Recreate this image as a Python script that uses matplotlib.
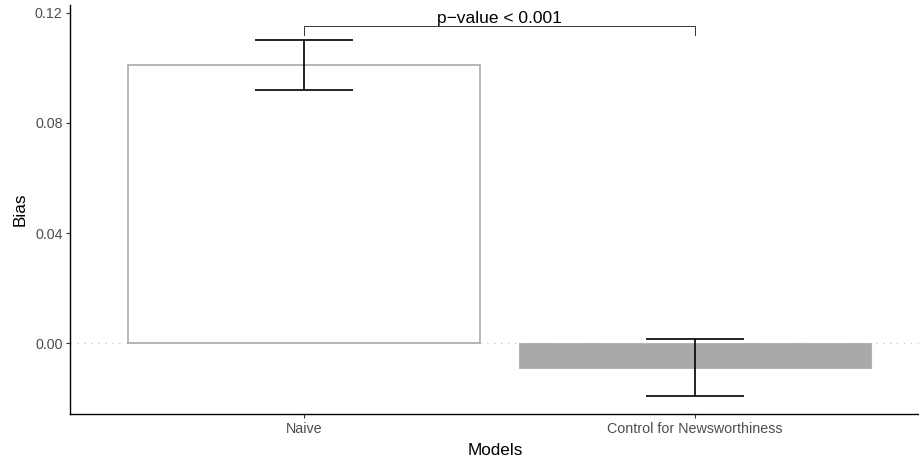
import matplotlib
matplotlib.use("Agg")
import matplotlib.pyplot as plt

plt.rcParams['font.family'] = ['Liberation Sans', 'DejaVu Sans']

categories = ["Naive", "Control for Newsworthiness"]
bias = [0.1010, -0.0091]
err_low = [0.0919, -0.0191]
err_high = [0.1102, 0.0016]
yticks = [0.00, 0.04, 0.08, 0.12]
ytick_labels = ["0.00", "0.04", "0.08", "0.12"]
p_label = "p\u2212value < 0.001"

fig = plt.figure(figsize=(9.2, 4.61), dpi=100)
ax = fig.add_axes([70/920, (461-414.3)/461, 1 - 70/920, (414.3-5)/461])

x = [1, 2]
ax.axhline(0, color='#cccccc', lw=1.0, ls=(0, (1, 4)), zorder=0)

ax.bar(x[0], bias[0], width=0.9, facecolor='white', edgecolor='#AAAAAA', lw=1.2, zorder=2)
ax.bar(x[1], bias[1], width=0.9, facecolor='#A9A9A9', edgecolor='#B5B5B5', lw=0.8, zorder=2)

for xi, lo, hi in zip(x, err_low, err_high):
    ax.vlines(xi, lo, hi, color='black', lw=1.2, zorder=3)
    ax.hlines([lo, hi], xi - 0.125, xi + 0.125, color='black', lw=1.2, zorder=3)

# significance bracket
yb, yt = 0.1120, 0.1152
ax.plot([x[0], x[0], x[1], x[1]], [yb, yt, yt, yb], color='#333333', lw=0.7, zorder=3,
        clip_on=False)
ax.text((x[0] + x[1]) / 2, 0.1164, p_label, ha='center', va='baseline', fontsize=12.5,
        color='black')

ax.set_xlim(0.402, 2.575)
ax.set_ylim(-0.02577, 0.1228)
ax.set_xticks(x)
ax.set_xticklabels(categories)
ax.set_yticks(yticks)
ax.set_yticklabels(ytick_labels)

for s in ['top', 'right']:
    ax.spines[s].set_visible(False)
for s in ['left', 'bottom']:
    ax.spines[s].set_linewidth(1.0)
    ax.spines[s].set_color('black')

ax.tick_params(axis='both', length=2.75, width=0.8, colors='#333333', labelsize=10.3,
               labelcolor='#4D4D4D', pad=2.5)
ax.set_xlabel("Models", fontsize=12.3, color='black', labelpad=5.5)
ax.set_ylabel("Bias", fontsize=12.3, color='black', labelpad=5)

fig.savefig("out.png", dpi=100)
